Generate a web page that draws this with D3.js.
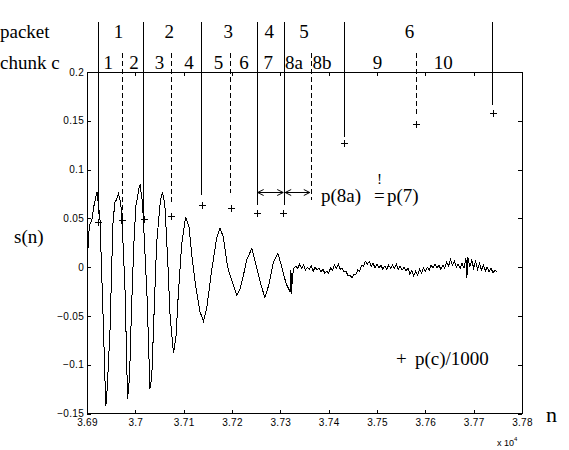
<!DOCTYPE html>
<html>
<head>
<meta charset="utf-8">
<script src="https://cdn.jsdelivr.net/npm/d3@7"></script>
<style>
  body { margin: 0; background: #fff; }
  svg { display: block; }
  .serif { font-family: "Liberation Serif", "DejaVu Serif", Times, serif; font-size: 19px; fill: #000; }
  .tick text { font-family: "Liberation Sans", Arial, sans-serif; font-size: 10px; fill: #000; letter-spacing: 0.3px; }
  .small { font-family: "Liberation Sans", Arial, sans-serif; fill: #000; }
</style>
</head>
<body>
<svg id="chart" width="569" height="450"></svg>
<script>
// s(n), [n, s]
const signal = [
  [36900, 0.000], [36903, 0.028], [36905, 0.043], [36910, 0.048], [36914, 0.062], [36920, 0.0755], [36921, 0.077],
  [36927, 0.048], [36930, 0.000], [36934, -0.061], [36937, -0.113], [36939, -0.142], [36942, -0.123], [36948, -0.061],
  [36951, 0.000], [36954, 0.048], [36958, 0.067], [36961, 0.069], [36965, 0.0755], [36970, 0.065], [36974, 0.031],
  [36979, -0.027], [36982, -0.095], [36984, -0.135], [36988, -0.113], [36992, -0.044], [36997, 0.024], [37001, 0.062],
  [37008, 0.082], [37010, 0.084], [37015, 0.065], [37019, 0.024], [37024, -0.027], [37028, -0.088], [37030, -0.125],
  [37034, -0.113], [37039, -0.044], [37044, 0.024], [37050, 0.058], [37052, 0.069], [37056, 0.0766], [37061, 0.065],
  [37067, 0.007], [37072, -0.051], [37079, -0.088], [37084, -0.072], [37089, -0.027], [37096, 0.024], [37104, 0.0515],
  [37111, 0.041], [37118, 0.007], [37125, -0.020], [37134, -0.046], [37141, -0.0555], [37148, -0.041], [37158, -0.003],
  [37168, 0.029], [37175, 0.040], [37182, 0.031], [37191, 0.000], [37199, -0.013], [37210, -0.029], [37217, -0.022],
  [37227, -0.001], [37230, 0.007], [37241, 0.019], [37251, 0.000], [37261, -0.020], [37268, -0.031], [37277, -0.017],
  [37285, 0.004], [37295, 0.014], [37303, 0.000], [37312, -0.017], [37320, -0.025], [37321, -0.024], [37322, -0.003],
  [37323, -0.027], [37325, -0.010], [37328, -0.001], [37332, 0.001], [37336, -0.001], [37340, 0.003], [37344, -0.001],
  [37348, 0.002], [37352, -0.003], [37356, 0.000], [37360, -0.002], [37364, 0.001], [37368, -0.004], [37372, 0.000],
  [37376, -0.003], [37380, -0.001], [37384, -0.005], [37388, -0.002], [37392, -0.006], [37396, -0.004], [37400, -0.006],
  [37404, -0.001], [37408, -0.003], [37412, 0.002], [37416, -0.001], [37420, 0.003], [37424, -0.002], [37428, -0.001],
  [37432, -0.005], [37436, -0.004], [37440, -0.009], [37444, -0.008], [37448, -0.011], [37452, -0.008], [37456, -0.008],
  [37460, -0.003], [37464, -0.004], [37468, 0.002], [37472, 0.001], [37476, 0.006], [37480, 0.003], [37484, 0.006],
  [37488, 0.001], [37492, 0.004], [37496, -0.001], [37500, 0.003], [37504, -0.001], [37508, 0.002], [37512, -0.002],
  [37516, 0.001], [37520, -0.002], [37524, 0.002], [37528, -0.001], [37532, 0.002], [37536, -0.001], [37540, 0.003],
  [37544, -0.002], [37548, 0.001], [37552, -0.003], [37556, 0.000], [37560, -0.004], [37564, -0.001], [37568, -0.007],
  [37572, -0.003], [37576, -0.009], [37580, -0.004], [37584, -0.008], [37588, -0.002], [37592, -0.006], [37596, -0.001],
  [37600, -0.004], [37604, 0.000], [37608, -0.003], [37612, 0.002], [37616, -0.001], [37620, 0.003], [37624, -0.001],
  [37628, 0.002], [37632, -0.002], [37636, 0.002], [37640, -0.001], [37644, 0.005], [37648, 0.001], [37652, 0.008],
  [37656, 0.002], [37660, 0.006], [37664, 0.000], [37668, 0.003], [37672, -0.001], [37676, 0.004], [37680, -0.001],
  [37684, 0.009], [37686, -0.011], [37688, 0.010], [37692, 0.000], [37696, 0.007], [37700, -0.001], [37704, 0.006],
  [37708, -0.002], [37712, 0.004], [37716, -0.003], [37720, 0.002], [37724, -0.004], [37728, 0.000], [37732, -0.005],
  [37736, -0.001], [37740, -0.006], [37744, -0.003], [37748, -0.005]
]

// chunk / packet boundaries
const boundaryN = [36922, 36972, 37016, 37073, 37135, 37195, 37251, 37308, 37363, 37432, 37580, 37737]
const boundaryDashed = [false, true, false, true, false, true, false, false, true, false, true, false]
const boundaryEnd = [0.054, 0.0515, 0.054, 0.067, 0.074, 0.0755, 0.0635, 0.0635, 0.0685, 0.1335, 0.154, 0.166]

// p(c)/1000 markers
const markerN = [36923, 36972, 37017, 37073, 37137, 37197, 37251, 37305, 37432, 37580, 37739]
const markerP = [0.0464, 0.048, 0.049, 0.0527, 0.0635, 0.0607, 0.055, 0.055, 0.127, 0.1467, 0.158]

const packetLabels = ['1', '2', '3', '4', '5', '6']
const packetLabelN = [36965, 37070, 37192, 37277, 37349, 37567]
const chunkLabels = ['1', '2', '3', '4', '5', '6', '7', '8a', '8b', '9', '10']
const chunkLabelN = [36944, 36997, 37050, 37111, 37172, 37225, 37275, 37328, 37386, 37501, 37637]

const arrowSpans = [[37251, 37308], [37308, 37363]]
const arrowLevel = 0.0766

const xTicks = [36900, 37000, 37100, 37200, 37300, 37400, 37500, 37600, 37700, 37800]
const yTicks = [-0.15, -0.1, -0.05, 0, 0.05, 0.1, 0.15, 0.2]

const svg = d3.select('#chart')
const x = d3.scaleLinear().domain([36900, 37800]).range([87, 522])
const y = d3.scaleLinear().domain([-0.15, 0.2]).range([413.5, 72])

svg.append('rect').attr('width', 569).attr('height', 450).attr('fill', '#fff')

const fmtX = d => String(+(d / 1e4).toFixed(2))
const fmtY = d3.format('')

const noDomain = g => g.select('.domain').remove()
svg.append('g').attr('transform', `translate(0,${y(-0.15)})`)
  .call(d3.axisBottom(x).tickValues(xTicks).tickFormat(fmtX).tickSizeInner(-4).tickSizeOuter(0).tickPadding(5))
  .call(noDomain)
svg.append('g').attr('transform', `translate(0,${y(0.2)})`)
  .call(d3.axisTop(x).tickValues(xTicks).tickFormat('').tickSizeInner(-4).tickSizeOuter(0))
  .call(noDomain)
svg.append('g').attr('transform', `translate(${x(36900)},0)`)
  .call(d3.axisLeft(y).tickValues(yTicks).tickFormat(fmtY).tickSizeInner(-4).tickSizeOuter(0).tickPadding(3))
  .call(noDomain)
svg.append('g').attr('transform', `translate(${x(37800)},0)`)
  .call(d3.axisRight(y).tickValues(yTicks).tickFormat('').tickSizeInner(-4).tickSizeOuter(0))
  .call(noDomain)
svg.selectAll('.tick line').attr('shape-rendering', 'crispEdges')

svg.append('rect')
  .attr('x', x(36900)).attr('y', y(0.2))
  .attr('width', x(37800) - x(36900)).attr('height', y(-0.15) - y(0.2))
  .attr('fill', 'none').attr('stroke', '#000').attr('shape-rendering', 'crispEdges')

// signal
svg.append('path')
  .datum(signal)
  .attr('d', d3.line().x(d => x(d[0])).y(d => y(d[1])))
  .attr('fill', 'none').attr('stroke', '#000').attr('stroke-width', 1)
  .attr('shape-rendering', 'crispEdges')

// boundaries
svg.append('g').selectAll('line').data(boundaryN).join('line')
  .attr('x1', d => Math.round(x(d)) + 0.5).attr('x2', d => Math.round(x(d)) + 0.5)
  .attr('y1', (d, i) => boundaryDashed[i] ? 53 : 22)
  .attr('y2', (d, i) => y(boundaryEnd[i]))
  .attr('stroke', '#000')
  .attr('stroke-dasharray', (d, i) => boundaryDashed[i] ? '5,3' : null)
  .attr('shape-rendering', 'crispEdges')

// markers
svg.append('g').selectAll('path').data(markerN).join('path')
  .attr('d', (d, i) => {
    const cx = Math.round(x(d)) + 0.5, cy = Math.round(y(markerP[i])) + 0.5
    return `M${cx - 3.5},${cy}h7M${cx},${cy - 3.5}v7`
  })
  .attr('stroke', '#000').attr('shape-rendering', 'crispEdges')

// arrows between boundaries 7 | 8a | 8b
const ay = Math.round(y(arrowLevel)) + 0.5
svg.append('g').selectAll('path').data(arrowSpans).join('path')
  .attr('d', d => {
    const a = x(d[0]) + 1, b = x(d[1]) - 1
    return `M${a},${ay}H${b}M${a + 6},${ay - 3}L${a},${ay}L${a + 6},${ay + 3}M${b - 6},${ay - 3}L${b},${ay}L${b - 6},${ay + 3}`
  })
  .attr('fill', 'none').attr('stroke', '#000')

// labels
svg.append('text').attr('class', 'serif').attr('x', 0).attr('y', 38).text('packet')
svg.append('text').attr('class', 'serif').attr('x', 0).attr('y', 69).text('chunk c')
svg.append('g').selectAll('text').data(packetLabels).join('text')
  .attr('class', 'serif').attr('text-anchor', 'middle')
  .attr('x', (d, i) => x(packetLabelN[i])).attr('y', 38).text(d => d)
svg.append('g').selectAll('text').data(chunkLabels).join('text')
  .attr('class', 'serif').attr('text-anchor', 'middle')
  .attr('x', (d, i) => x(chunkLabelN[i])).attr('y', 69).text(d => d)

svg.append('text').attr('class', 'serif').attr('x', 14).attr('y', 243).text('s(n)')
svg.append('text').attr('class', 'serif').attr('x', 546).attr('y', 422).style('font-size', '22px').text('n')

const ex = svg.append('text').attr('class', 'small').attr('x', 497).attr('y', 446).style('font-size', '9px')
ex.append('tspan').text('x 10')
ex.append('tspan').attr('dy', -5).style('font-size', '6px').text('4')

// p(8a) =! p(7): the "!" sits above the "=", kept in one text element
const eq = svg.append('text').attr('class', 'serif').attr('x', 321).attr('y', 202)
eq.append('tspan').text('p(8a)')
eq.append('tspan').attr('x', 374).text('=')
eq.append('tspan').attr('x', 377).attr('dy', -18).style('font-size', '15px').text('!')
eq.append('tspan').attr('x', 387).attr('dy', 18).text('p(7)')

const leg = svg.append('text').attr('class', 'serif').attr('x', 396).attr('y', 365)
leg.append('tspan').text('+')
leg.append('tspan').attr('x', 415).text('p(c)/1000')
</script>
</body>
</html>
